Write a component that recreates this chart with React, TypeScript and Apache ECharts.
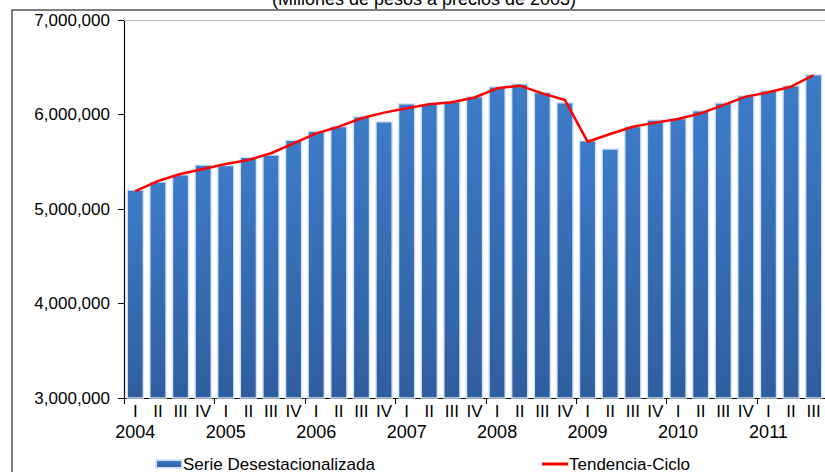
import React, { useEffect, useRef } from "react";
import * as echarts from "echarts";

const years = ["2004", "2005", "2006", "2007", "2008", "2009", "2010", "2011"];
const quarters = ["I", "II", "III", "IV"];
const quarterCount = 31;

const serieDesestacionalizada = [
  5209000, 5293000, 5370000, 5473000,
  5468000, 5555000, 5580000, 5735000,
  5830000, 5880000, 5984000, 5931000,
  6122000, 6117000, 6143000, 6196000,
  6302000, 6330000, 6242000, 6132000,
  5730000, 5642000, 5882000, 5949000,
  5966000, 6048000, 6129000, 6206000,
  6259000, 6312000, 6429000,
];

const tendenciaCiclo = [
  5190000, 5296000, 5370000, 5423000,
  5476000, 5519000, 5590000, 5695000,
  5800000, 5871000, 5960000, 6020000,
  6066000, 6108000, 6129000, 6180000,
  6277000, 6305000, 6224000, 6153000,
  5712000, 5794000, 5871000, 5914000,
  5952000, 6012000, 6100000, 6189000,
  6235000, 6294000, 6418000,
];

const yTicks = [3000000, 4000000, 5000000, 6000000, 7000000];

const titleText = "(Millones de pesos a precios de 2003)";

const categories: string[] = [];
for (let i = 0; i < quarterCount; i++) {
  categories.push(years[Math.floor(i / 4)] + "-" + quarters[i % 4]);
}

const FONT = "'Liberation Sans', Arial, sans-serif";

export default function App() {
  const ref = useRef<HTMLDivElement>(null);
  useEffect(() => {
    if (!ref.current) return;
    const chart = echarts.init(ref.current, undefined, { renderer: "svg" });
    chart.setOption({
      animation: false,
      backgroundColor: "#ffffff",
      textStyle: { fontFamily: FONT },
      graphic: [
        {
          type: "rect",
          shape: { x: 12, y: 10, width: 900, height: 600 },
          style: { fill: "none", stroke: "#555555", lineWidth: 1.5 },
          silent: true,
        },
        {
          type: "text",
          x: 424,
          y: -10,
          style: {
            text: titleText,
            align: "center",
            verticalAlign: "top",
            fontSize: 18,
            fontFamily: FONT,
            fill: "#000000",
          },
        },
      ],
      grid: { left: 124, top: 20, right: 0, bottom: 74, containLabel: false },
      legend: [
        {
          data: [{ name: "Serie Desestacionalizada", icon: "rect" }],
          left: 150,
          top: 449,
          itemWidth: 26,
          itemHeight: 8,
          textStyle: { fontSize: 17, lineHeight: 20, color: "#000", fontFamily: FONT, padding: [0, 0, 0, -4] },
        },
        {
          data: [{ name: "Tendencia-Ciclo", icon: "rect" }],
          left: 537,
          top: 449,
          itemWidth: 26,
          itemHeight: 3,
          textStyle: { fontSize: 17, lineHeight: 20, color: "#000", fontFamily: FONT, padding: [0, 0, 0, -4] },
        },
      ],
      xAxis: [
        {
          type: "category",
          data: categories,
          position: "bottom",
          axisLine: { show: true, lineStyle: { color: "#000000", width: 1.2 } },
          axisTick: {
            show: true,
            interval: (i: number) => i % 4 === 0,
            length: 6,
            lineStyle: { color: "#000" },
          },
          axisLabel: {
            interval: 0,
            margin: 3,
            color: "#000",
            fontFamily: FONT,
            formatter: (v: string, i: number) => {
              const q = quarters[i % 4];
              if (i % 4 === 0) return `{q|${q}}\n{y|${years[Math.floor(i / 4)]}}`;
              return `{q|${q}}`;
            },
            rich: {
              q: { fontSize: 17, lineHeight: 20, fontFamily: FONT, color: "#000" },
              y: { fontSize: 18, lineHeight: 22, fontFamily: FONT, color: "#000" },
            },
          },
        },
        {
          type: "category",
          data: categories,
          position: "top",
          axisLine: { show: true, lineStyle: { color: "#bdbdbd", width: 1 } },
          axisTick: { show: false },
          axisLabel: { show: false },
        },
      ],
      yAxis: {
        type: "value",
        min: yTicks[0],
        max: yTicks[yTicks.length - 1],
        interval: 1000000,
        axisLine: { show: true, lineStyle: { color: "#000000", width: 1.2 } },
        axisTick: { show: true, length: 6, lineStyle: { color: "#000" } },
        splitLine: { show: false },
        axisLabel: {
          margin: 14,
          fontSize: 17,
          color: "#000",
          fontFamily: FONT,
          formatter: (v: number) => v.toLocaleString("en-US"),
        },
      },
      series: [
        {
          name: "Serie Desestacionalizada",
          type: "bar",
          data: serieDesestacionalizada,
          barCategoryGap: "22%",
          itemStyle: {
            color: new echarts.graphic.LinearGradient(0, 0, 0, 1, [
              { offset: 0, color: "#3d7bc8" },
              { offset: 1, color: "#2f5e9e" },
            ]),
            borderColor: "rgba(215,230,247,0.95)",
            borderWidth: 1.5,
          },
        },
        {
          name: "Tendencia-Ciclo",
          type: "line",
          data: tendenciaCiclo,
          showSymbol: false,
          symbol: "none",
          lineStyle: { color: "#ff0000", width: 2.5 },
          itemStyle: { color: "#ff0000" },
          z: 5,
        },
      ],
    });
    return () => chart.dispose();
  }, []);
  return (
    <div
      ref={ref}
      style={{ position: "absolute", left: 0, top: 0, width: 825, height: 472 }}
    />
  );
}
